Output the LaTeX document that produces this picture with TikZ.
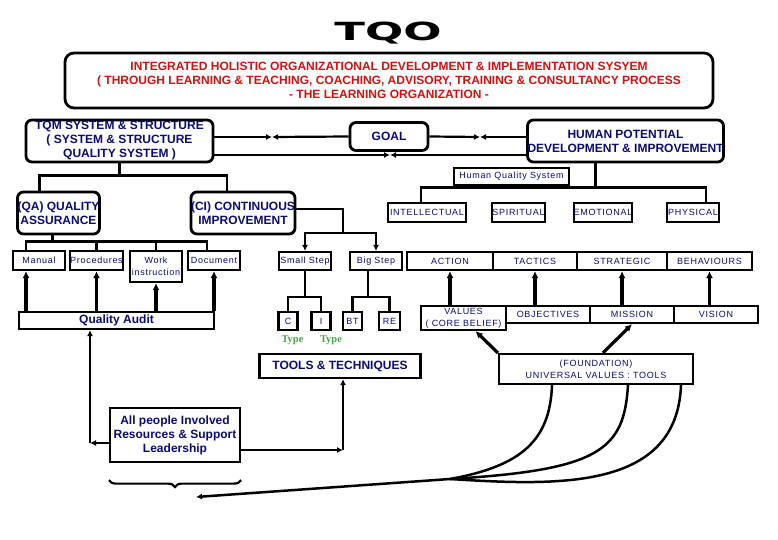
\documentclass[tikz,border=0pt]{standalone}
\usepackage{fontspec}
\setmainfont{Liberation Sans}
\newfontfamily\spaced[LetterSpace=8]{Liberation Sans}
\newfontfamily\heavy{DejaVu Sans}
\newfontfamily\typefont{Liberation Serif}
\usepackage{tikz}
\usetikzlibrary{arrows.meta, decorations.pathreplacing}
\definecolor{navy}{RGB}{10,10,120}
\definecolor{orgred}{RGB}{215,15,15}
\definecolor{typegreen}{RGB}{70,165,70}

\begin{document}
\begin{tikzpicture}[x=1pt, y=-1pt, line width=2.2pt,
  rbox/.style = {draw, rounded corners=6pt, line width=2.8pt, inner sep=0pt, align=center, text=navy, font=\bfseries\fontsize{12}{14}\selectfont},
  sbox/.style = {draw, line width=2.2pt, inner sep=0pt, align=center, text=navy, font=\spaced\fontsize{9}{12}\selectfont},
  bbox/.style = {draw, line width=2.2pt, inner sep=0pt, align=center, text=navy, font=\bfseries\fontsize{12}{14}\selectfont},
  tip/.style = {-{Latex[length=6pt,width=6pt]}},
  up/.style = {line width=3.2pt, -{Latex[length=7pt,width=7pt]}},
  type/.style = {text=typegreen, font=\typefont\bfseries\fontsize{10.5}{12}\selectfont}]

  \useasboundingbox (0,0) rectangle (778,540);

  \node (title) at (388,33) {\scalebox{1.8}[1]{\heavy\bfseries\fontsize{25}{25}\selectfont TQO}};
  \node[rbox, rounded corners=9pt, minimum width=648, minimum height=55, text=orgred] (org) at (389,80.5)
    {INTEGRATED HOLISTIC ORGANIZATIONAL DEVELOPMENT \& IMPLEMENTATION SYSYEM\\
     ( THROUGH LEARNING \& TEACHING, COACHING, ADVISORY, TRAINING \& CONSULTANCY PROCESS\\
     - THE LEARNING ORGANIZATION -};

  \node[rbox, minimum width=187, minimum height=42] (tqm) at (119.5,141) {TQM SYSTEM \& STRUCTURE\\( SYSTEM \& STRUCTURE\\QUALITY SYSTEM )};
  \node[rbox, minimum width=78, minimum height=28] (goal) at (389,136.5) {GOAL};
  \node[rbox, minimum width=189, minimum height=42] (hpd) at (625.5,141) {HUMAN POTENTIAL\\DEVELOPMENT \& IMPROVEMENT};

  \coordinate (m1) at (272,137);
  \coordinate (m2) at (480,137);
  \coordinate (m3) at (390,155);
  \draw[tip] (tqm.east |- m1) -- (m1);
  \draw[tip] (goal.west) -- (m1);
  \draw[tip] (goal.east) -- (m2);
  \draw[tip] (hpd.west |- m2) -- (m2);
  \draw[tip] (tqm.east |- m3) -- (m3);
  \draw[tip] (hpd.west |- m3) -- (m3);

  \node[rbox, minimum width=79, minimum height=42] (qa) at (58.5,213) {(QA) QUALITY\\ASSURANCE};
  \node[rbox, minimum width=98, minimum height=42] (ci) at (243,213) {(CI) CONTINUOUS\\IMPROVEMENT};
  \draw (tqm.south) -- ++(0,12) coordinate (tb);
  \draw ([xshift=-19]qa.north) |- (tb) -| ([xshift=-16]ci.north);

  \node[sbox, minimum width=52, minimum height=19] (manual) at (39,260.5) {Manual};
  \node[sbox, minimum width=53, minimum height=19] (proc) at (96.5,260.5) {Procedures};
  \node[sbox, minimum width=52, minimum height=31] (work) at (156,266.5) {Work\\instruction};
  \node[sbox, minimum width=52, minimum height=19] (doc) at (214,260.5) {Document};
  \coordinate (ml) at ([xshift=-13]manual.north);
  \draw ([xshift=-6]qa.south) -- ++(0,6) coordinate (qb);
  \draw (ml) |- (qb) -| ([xshift=-7]doc.north);
  \draw (proc.north) -- (proc.north |- qb);
  \draw (work.north) -- (work.north |- qb);

  \node[bbox, minimum width=195, minimum height=17] (audit) at (116.5,320.5) {Quality Audit};
  \draw[up] (audit.north -| ml) -- (ml |- manual.south);
  \draw[up] (audit.north -| proc.south) -- (proc.south);
  \draw[up] (audit.north -| work.south) -- (work.south);
  \draw[up] (audit.north -| doc.south) -- (doc.south);

  \node[bbox, minimum width=130, minimum height=54] (people) at (175,435) {All people Involved\\Resources \& Support\\Leadership};
  \node[bbox, minimum width=161, minimum height=24] (tools) at (340,366) {TOOLS \& TECHNIQUES};
  \coordinate (pl) at (90,443);
  \coordinate (pr) at (343,450);
  \draw[tip] (people.west |- pl) -- (pl);
  \draw[tip] (pl) -- (pl |- audit.south);
  \draw[tip] (people.east |- pr) -- (pr);
  \draw[tip] (pr) -- (pr |- tools.south);
  \draw[decorate, decoration={brace, mirror, amplitude=7pt}] ([yshift=-17]people.south west) -- ([yshift=-17]people.south east);

  \node[sbox, minimum width=52, minimum height=18] (small) at (305,261) {Small Step};
  \node[sbox, minimum width=52, minimum height=18] (big) at (376,261) {Big Step};
  \coordinate (cb) at (343,233);
  \draw ([yshift=4]ci.east) -| (cb);
  \draw[tip] (cb) -| (small.north);
  \draw[tip] (cb) -| (big.north);

  \node[sbox, minimum width=19, minimum height=18] (c) at (288,321) {C};
  \node[sbox, minimum width=19, minimum height=18] (i) at (321,321) {I};
  \node[sbox, minimum width=19, minimum height=18] (bt) at (352.5,321) {BT};
  \node[sbox, minimum width=21, minimum height=18] (re) at (389.5,321) {RE};
  \draw (small.south) -- ++(0,26) coordinate (sb);
  \draw (c.north) |- (sb) -| (i.north);
  \draw ([xshift=-8]big.south) -- ++(0,26) coordinate (bb);
  \draw (bt.north) |- (bb) -| (re.north);
  \node[type] (type1) at (292.5,340) {Type};
  \node[type] (type2) at (331,340) {Type};

  \node[sbox, minimum width=115, minimum height=17] (hqs) at (511.5,176.5) {Human Quality System};
  \node[sbox, minimum width=78, minimum height=19] (intel) at (427,212.5) {INTELLECTUAL};
  \node[sbox, minimum width=51, minimum height=19] (spirit) at (518.5,212.5) {SPIRITUAL};
  \node[sbox, minimum width=52, minimum height=19] (emo) at (603,212.5) {EMOTIONAL};
  \node[sbox, minimum width=52, minimum height=19] (phys) at (693,212.5) {PHYSICAL};
  \draw ([xshift=-30]hpd.south) -- ++(0,24) coordinate (hb);
  \draw ([xshift=-6]intel.north) |- (hb) -| ([xshift=13]phys.north);

  \node[sbox, minimum width=86, minimum height=18] (action) at (450,261) {ACTION};
  \node[sbox, minimum width=84, minimum height=18] (tactics) at (535,261) {TACTICS};
  \node[sbox, minimum width=90, minimum height=18] (strat) at (622,261) {STRATEGIC};
  \node[sbox, minimum width=85, minimum height=18] (behav) at (709.5,261) {BEHAVIOURS};

  \node[sbox, minimum width=85, minimum height=24] (values) at (463.5,318) {VALUES\\( CORE BELIEF)};
  \node[sbox, minimum width=84, minimum height=17] (obj) at (548,314.5) {OBJECTIVES};
  \node[sbox, minimum width=84, minimum height=17] (mission) at (632,314.5) {MISSION};
  \node[sbox, minimum width=84, minimum height=17] (vision) at (716,314.5) {VISION};
  \draw[up] (action.south |- values.north) -- (action.south);
  \draw[up] (tactics.south |- obj.north) -- (tactics.south);
  \draw[up] (strat.south |- mission.north) -- (strat.south);
  \draw[up] (behav.south |- vision.north) -- (behav.south);

  \node[sbox, minimum width=194, minimum height=30] (found) at (596,369) {(FOUNDATION)\\UNIVERSAL VALUES : TOOLS};
  \draw[up] (found.north west) -- ([xshift=12]values.south);
  \draw[up] ([xshift=7]found.north) -- (mission.south);

  \coordinate (meet) at (450,479);
  \coordinate (sink) at (196,497);
  \draw[line width=2.5pt] ([xshift=-44]found.south) .. controls (550,440) and (522,466) .. (meet);
  \draw[line width=2.5pt] ([xshift=32]found.south) .. controls (624,450) and (600,470) .. (meet);
  \draw[line width=2.5pt] ([xshift=85]found.south) .. controls (677,490) and (560,486) .. (meet);
  \draw[tip, line width=2.5pt] (meet) -- (sink);
\end{tikzpicture}
\end{document}
